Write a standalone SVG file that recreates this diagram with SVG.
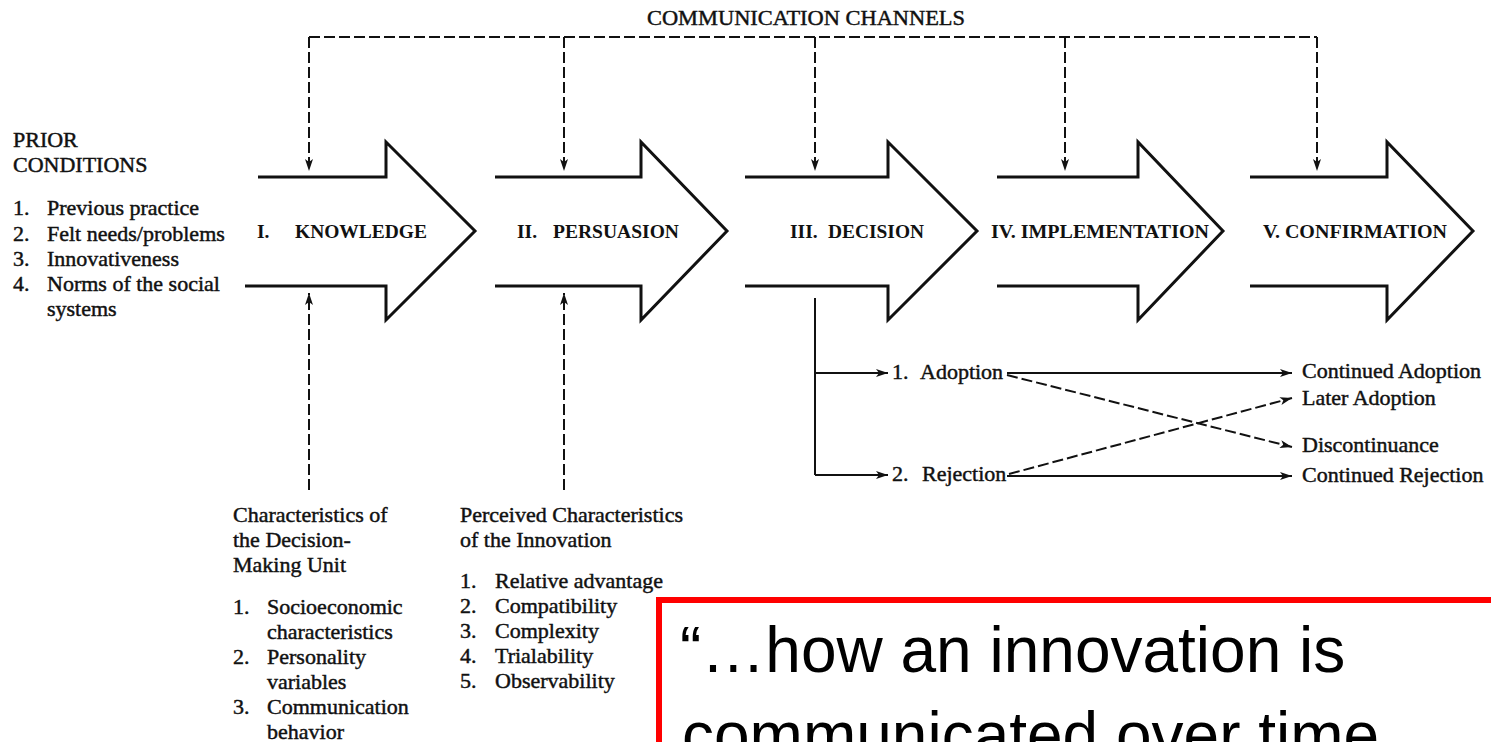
<svg xmlns="http://www.w3.org/2000/svg" width="1491" height="742" viewBox="0 0 1491 742">
<defs>
<style>
.t{font-family:"Liberation Serif","Times New Roman",serif;font-size:22px;fill:#111;stroke:#111;stroke-width:0.45px}
.b{font-family:"Liberation Serif","Times New Roman",serif;font-size:19.5px;font-weight:bold;fill:#111}
.arw{fill:none;stroke:#111;stroke-width:3;stroke-linejoin:miter}
.d{fill:none;stroke:#111;stroke-width:2;stroke-dasharray:11 4}
.s{fill:none;stroke:#111;stroke-width:2}
.q{font-family:"Liberation Sans",Arial,sans-serif;font-size:64px;fill:#000}
</style>
<marker id="ah" viewBox="0 0 12 8" refX="12" refY="4" markerWidth="12" markerHeight="8" markerUnits="userSpaceOnUse" orient="auto">
<path d="M0,0 L12,4 L0,8 L3,4 z" fill="#111"/>
</marker>
</defs>
<rect width="1491" height="742" fill="#fff"/>

<g id="comm-channels">
<text class="t" x="647" y="25" textLength="318" lengthAdjust="spacingAndGlyphs">COMMUNICATION CHANNELS</text>
</g>

<g id="prior-conditions">
<text class="t" x="13" y="147">PRIOR</text>
<text class="t" x="13" y="172">CONDITIONS</text>
<text class="t" x="13" y="215">1.</text><text class="t" x="47" y="215">Previous practice</text>
<text class="t" x="13" y="240.5">2.</text><text class="t" x="47" y="240.5">Felt needs/problems</text>
<text class="t" x="13" y="266">3.</text><text class="t" x="47" y="266">Innovativeness</text>
<text class="t" x="13" y="291">4.</text><text class="t" x="47" y="291">Norms of the social</text>
<text class="t" x="47" y="316">systems</text>
</g>

<g id="stage-knowledge">
<path class="arw" d="M258,177 H386 V142 L475,231 L386,320 V286 H245"/>
<text class="b" x="257" y="238">I.</text>
<text class="b" x="295" y="238" textLength="132" lengthAdjust="spacingAndGlyphs">KNOWLEDGE</text>
</g>
<g id="stage-persuasion">
<path class="arw" d="M495,177 H641 V142 L727,231 L641,320 V286 H495"/>
<text class="b" x="517" y="238">II.</text>
<text class="b" x="553" y="238" textLength="126" lengthAdjust="spacingAndGlyphs">PERSUASION</text>
</g>
<g id="stage-decision">
<path class="arw" d="M745,177 H888 V142 L977,231 L888,320 V286 H745"/>
<text class="b" x="790" y="238">III.</text>
<text class="b" x="828" y="238" textLength="96" lengthAdjust="spacingAndGlyphs">DECISION</text>
</g>
<g id="stage-implementation">
<path class="arw" d="M997,177 H1138 V142 L1223,231 L1138,320 V286 H997"/>
<text class="b" x="991" y="238" textLength="218" lengthAdjust="spacingAndGlyphs">IV. IMPLEMENTATION</text>
</g>
<g id="stage-confirmation">
<path class="arw" d="M1250,177 H1387 V142 L1473,231 L1387,320 V286 H1250"/>
<text class="b" x="1263" y="238" textLength="184" lengthAdjust="spacingAndGlyphs">V. CONFIRMATION</text>
</g>

<g id="decision-unit">
<text class="t" x="233" y="522">Characteristics of</text>
<text class="t" x="233" y="547">the Decision-</text>
<text class="t" x="233" y="572">Making Unit</text>
<text class="t" x="233" y="614">1.</text><text class="t" x="267" y="614">Socioeconomic</text>
<text class="t" x="267" y="639">characteristics</text>
<text class="t" x="233" y="664">2.</text><text class="t" x="267" y="664">Personality</text>
<text class="t" x="267" y="689">variables</text>
<text class="t" x="233" y="714">3.</text><text class="t" x="267" y="714">Communication</text>
<text class="t" x="267" y="739">behavior</text>
</g>

<g id="innovation-characteristics">
<text class="t" x="460" y="522">Perceived Characteristics</text>
<text class="t" x="460" y="547">of the Innovation</text>
<text class="t" x="460" y="588">1.</text><text class="t" x="495" y="588">Relative advantage</text>
<text class="t" x="460" y="613">2.</text><text class="t" x="495" y="613">Compatibility</text>
<text class="t" x="460" y="638">3.</text><text class="t" x="495" y="638">Complexity</text>
<text class="t" x="460" y="663">4.</text><text class="t" x="495" y="663">Trialability</text>
<text class="t" x="460" y="688">5.</text><text class="t" x="495" y="688">Observability</text>
</g>

<g id="outcome-adoption">
<text class="t" x="892" y="379">1.</text><text class="t" x="920" y="379">Adoption</text>
</g>
<g id="outcome-rejection">
<text class="t" x="892" y="481">2.</text><text class="t" x="922" y="481">Rejection</text>
</g>
<g id="result-continued-adoption"><text class="t" x="1302" y="378">Continued Adoption</text></g>
<g id="result-later-adoption"><text class="t" x="1302" y="405">Later Adoption</text></g>
<g id="result-discontinuance"><text class="t" x="1302" y="452">Discontinuance</text></g>
<g id="result-continued-rejection"><text class="t" x="1302" y="482">Continued Rejection</text></g>

<g id="connectors">
<path class="d" d="M309,37 H1317"/>
<path class="d" d="M309,37 V171" marker-end="url(#ah)"/>
<path class="d" d="M564,37 V171" marker-end="url(#ah)"/>
<path class="d" d="M815,37 V171" marker-end="url(#ah)"/>
<path class="d" d="M1065,37 V171" marker-end="url(#ah)"/>
<path class="d" d="M1317,37 V171" marker-end="url(#ah)"/>
<path class="d" d="M309,490 V293" marker-end="url(#ah)"/>
<path class="d" d="M564,490 V293" marker-end="url(#ah)"/>
<path class="s" d="M815,298 V475"/>
<path class="s" d="M815,373 H888" marker-end="url(#ah)"/>
<path class="s" d="M815,475 H888" marker-end="url(#ah)"/>
<path class="s" d="M1007,373 H1292" marker-end="url(#ah)"/>
<path class="s" d="M1007,476 H1292" marker-end="url(#ah)"/>
<path class="d" d="M1007,375 L1292,447" marker-end="url(#ah)"/>
<path class="d" d="M1009,474 L1292,398" marker-end="url(#ah)"/>
</g>

<g id="quote-box">
<path d="M659,742 V600 H1491" fill="none" stroke="#ff0000" stroke-width="6"/>
<text class="q" x="680" y="672">“…how an innovation is</text>
<text class="q" x="682" y="757">communicated over time…</text>
</g>
</svg>
